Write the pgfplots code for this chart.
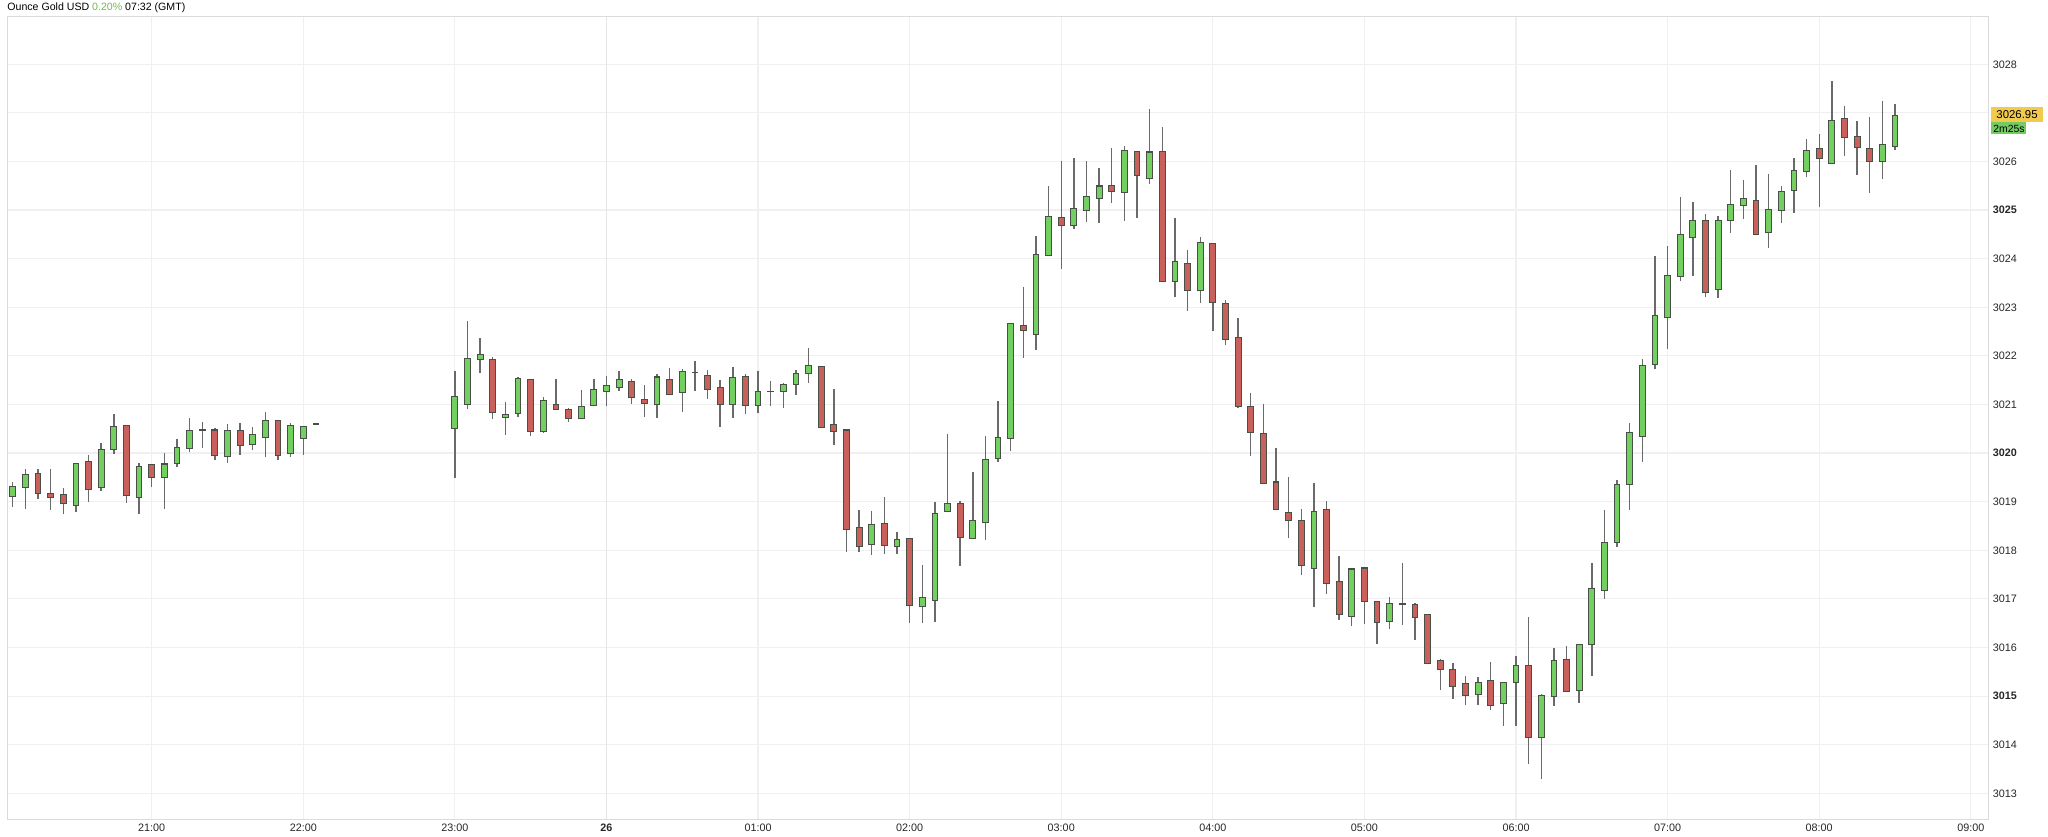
\documentclass[border=0pt]{standalone}
\usepackage{pgfplots}
\usepackage{pgfplotstable}
\usepackage{fontspec}
\setmainfont{Liberation Sans}
\pgfplotsset{compat=1.18}
\definecolor{upfill}{HTML}{72CF60}
\definecolor{downfill}{HTML}{C9605C}
\definecolor{edge}{HTML}{465046}
\definecolor{wick}{HTML}{6A6A6A}
\definecolor{gridc}{HTML}{F0F0F3}
\definecolor{framec}{HTML}{DADCDA}
\definecolor{pctgreen}{HTML}{6DBB4F}
\definecolor{tagy}{HTML}{F2CB4E}
\definecolor{tagg}{HTML}{74CB62}
% i = 5-minute bar number (21:00 = 11, 22:00 = 23, ... 09:00 = 155)
\pgfplotstableread{
i high top bot low
0 3019.41 3019.30 3019.12 3018.90
1 3019.68 3019.55 3019.29 3018.86
5 3019.78 3019.78 3018.92 3018.79
7 3020.21 3020.07 3019.29 3019.21
8 3020.80 3020.55 3020.08 3019.99
10 3019.79 3019.72 3019.10 3018.74
12 3020.01 3019.77 3019.51 3018.84
13 3020.30 3020.11 3019.79 3019.71
14 3020.73 3020.45 3020.11 3020.03
15 3020.64 3020.47 3020.47 3020.11
17 3020.60 3020.45 3019.93 3019.79
19 3020.53 3020.37 3020.18 3020.07
20 3020.84 3020.66 3020.33 3019.92
22 3020.62 3020.56 3019.99 3019.92
23 3020.55 3020.55 3020.31 3019.97
24 3020.60 3020.60 3020.60 3020.60
35 3021.69 3021.16 3020.52 3019.49
36 3022.71 3021.95 3021.01 3020.90
37 3022.37 3022.02 3021.93 3021.65
39 3021.06 3020.79 3020.74 3020.38
40 3021.57 3021.52 3020.82 3020.74
42 3021.15 3021.07 3020.44 3020.42
45 3021.29 3020.96 3020.71 3020.71
46 3021.52 3021.30 3020.98 3020.98
47 3021.58 3021.38 3021.27 3020.97
48 3021.68 3021.50 3021.36 3021.27
51 3021.62 3021.56 3021.00 3020.73
53 3021.74 3021.68 3021.26 3020.84
54 3021.89 3021.66 3021.66 3021.28
57 3021.77 3021.55 3021.01 3020.73
59 3021.69 3021.26 3020.99 3020.82
60 3021.49 3021.27 3021.27 3020.97
61 3021.45 3021.40 3021.28 3020.93
62 3021.71 3021.63 3021.42 3021.20
63 3022.16 3021.80 3021.65 3021.45
68 3018.80 3018.53 3018.13 3017.91
70 3018.38 3018.21 3018.09 3017.93
72 3017.70 3017.02 3016.84 3016.50
73 3019.00 3018.76 3016.98 3016.53
74 3020.39 3018.95 3018.80 3018.80
76 3019.62 3018.60 3018.25 3018.25
77 3020.36 3019.87 3018.58 3018.21
78 3021.08 3020.31 3019.90 3019.82
79 3022.66 3022.66 3020.31 3020.04
81 3024.47 3024.08 3022.45 3022.13
82 3025.49 3024.86 3024.08 3024.06
84 3026.08 3025.02 3024.68 3024.62
85 3026.01 3025.27 3024.99 3024.75
86 3025.87 3025.49 3025.25 3024.74
88 3026.32 3026.23 3025.37 3024.78
90 3027.09 3026.19 3025.65 3025.53
92 3024.84 3023.93 3023.53 3023.22
94 3024.44 3024.32 3023.35 3023.08
103 3019.38 3018.80 3017.64 3016.84
106 3017.62 3017.61 3016.65 3016.44
109 3017.03 3016.90 3016.55 3016.38
110 3017.74 3016.90 3016.90 3016.47
116 3015.40 3015.27 3015.03 3014.81
118 3015.30 3015.27 3014.85 3014.38
119 3015.82 3015.62 3015.29 3014.38
121 3015.04 3015.01 3014.16 3013.30
122 3016.00 3015.72 3014.99 3014.79
124 3016.05 3016.05 3015.13 3014.86
125 3017.73 3017.21 3016.06 3015.41
126 3018.83 3018.16 3017.18 3017.00
127 3019.45 3019.35 3018.17 3018.06
128 3020.61 3020.42 3019.36 3018.83
129 3021.94 3021.79 3020.35 3019.82
130 3024.05 3022.82 3021.82 3021.73
131 3024.26 3023.64 3022.79 3022.14
132 3025.27 3024.49 3023.64 3023.55
133 3025.17 3024.78 3024.45 3023.65
135 3024.88 3024.78 3023.38 3023.19
136 3025.83 3025.10 3024.79 3024.52
137 3025.61 3025.24 3025.11 3024.82
139 3025.75 3025.00 3024.55 3024.21
140 3025.49 3025.38 3024.99 3024.74
141 3026.07 3025.81 3025.41 3024.94
142 3026.47 3026.23 3025.79 3025.68
144 3027.65 3026.84 3025.96 3025.95
148 3027.25 3026.34 3026.01 3025.64
149 3027.19 3026.94 3026.32 3026.24
}\upbars
\pgfplotstableread{
i high top bot low
2 3019.68 3019.58 3019.18 3019.06
3 3019.68 3019.16 3019.10 3018.82
4 3019.29 3019.14 3018.96 3018.74
6 3019.97 3019.82 3019.25 3019.00
9 3020.57 3020.57 3019.14 3018.97
11 3019.75 3019.75 3019.51 3019.30
16 3020.52 3020.47 3019.95 3019.86
18 3020.62 3020.45 3020.17 3019.97
21 3020.67 3020.67 3019.95 3019.86
38 3021.98 3021.93 3020.84 3020.71
41 3021.51 3021.51 3020.44 3020.36
43 3021.53 3020.99 3020.90 3020.89
44 3020.93 3020.89 3020.72 3020.64
49 3021.53 3021.46 3021.14 3021.02
50 3021.40 3021.10 3021.03 3020.75
52 3021.75 3021.51 3021.21 3021.21
55 3021.71 3021.60 3021.32 3021.12
56 3021.51 3021.34 3021.00 3020.54
58 3021.63 3021.58 3020.98 3020.81
64 3021.78 3021.78 3020.54 3020.54
65 3021.32 3020.58 3020.45 3020.16
66 3020.47 3020.47 3018.43 3017.97
67 3018.82 3018.47 3018.09 3017.97
69 3019.10 3018.55 3018.11 3017.93
71 3018.23 3018.23 3016.86 3016.50
75 3019.01 3018.96 3018.27 3017.68
80 3023.42 3022.61 3022.52 3021.96
83 3026.02 3024.84 3024.68 3023.79
87 3026.28 3025.51 3025.39 3025.14
89 3026.21 3026.21 3025.71 3024.84
91 3026.70 3026.21 3023.53 3023.53
93 3024.18 3023.90 3023.36 3022.92
95 3024.31 3024.31 3023.10 3022.51
96 3023.14 3023.08 3022.35 3022.23
97 3022.77 3022.37 3020.96 3020.93
98 3021.24 3020.96 3020.43 3019.94
99 3021.00 3020.40 3019.38 3019.38
100 3020.10 3019.40 3018.85 3018.85
101 3019.50 3018.78 3018.62 3018.25
102 3018.86 3018.60 3017.69 3017.50
104 3019.01 3018.84 3017.33 3017.11
105 3017.88 3017.35 3016.69 3016.56
107 3017.65 3017.63 3016.95 3016.48
108 3016.95 3016.95 3016.53 3016.08
111 3016.92 3016.88 3016.62 3016.16
112 3016.68 3016.68 3015.68 3015.66
113 3015.77 3015.73 3015.56 3015.12
114 3015.68 3015.55 3015.21 3014.95
115 3015.42 3015.25 3015.01 3014.81
117 3015.70 3015.31 3014.81 3014.71
120 3016.62 3015.62 3014.16 3013.61
123 3016.04 3015.75 3015.10 3015.10
134 3024.92 3024.78 3023.31 3023.22
138 3025.93 3025.20 3024.51 3024.48
143 3026.57 3026.27 3026.06 3025.07
145 3027.14 3026.88 3026.50 3026.12
146 3026.84 3026.51 3026.30 3025.73
147 3026.92 3026.27 3026.01 3025.36
}\downbars
\pgfplotsset{
  wickbar/.style={forget plot, draw=none, mark=none,
    error bars/.cd, y dir=both, y explicit, error mark=none,
    error bar style={color=wick, line width=0.7pt}},
  edgebar/.style={forget plot, draw=none, mark=none,
    error bars/.cd, y dir=both, y explicit, error mark=none,
    error bar style={color=edge, line width=3.4pt}},
  fillbar/.style={forget plot, draw=none, mark=none,
    error bars/.cd, y dir=both, y explicit, error mark=none,
    error bar style={color=#1, line width=2.4pt}},
}
\newcommand{\candles}[2]{%
  \addplot[wickbar] table[x=i, y=bot,
    y error plus expr={\thisrow{high}-\thisrow{bot}},
    y error minus expr={\thisrow{bot}-\thisrow{low}}] {#1};
  \addplot[edgebar] table[x=i, y expr={\thisrow{bot}-0.016},
    y error plus expr={\thisrow{top}-\thisrow{bot}+0.032},
    y error minus expr={0}] {#1};
  \addplot[fillbar=#2] table[x=i, y expr={\thisrow{bot}+0.005},
    y error plus expr={max(\thisrow{top}-\thisrow{bot}-0.01,0)},
    y error minus expr={0}] {#1};
}
\newcommand{\tickfont}{\fontsize{5.4pt}{6pt}\selectfont}
\begin{document}
\begin{tikzpicture}
\path[use as bounding box] (0,0) rectangle (1024pt,418pt);
\begin{axis}[
  at={(3.75pt,8.35pt)}, anchor=south west,
  scale only axis, width=990.6pt, height=401.15pt,
  xmin=-0.415, xmax=156.42, ymin=3012.465, ymax=3028.973,
  axis line style={color=framec, line width=0.5pt},
  tick style={draw=none},
  major tick length=0pt,
  grid=major,
  major grid style={color=gridc, line width=0.6pt},
  xtick={11,23,35,47,59,71,83,95,107,119,131,143,155},
  xticklabels={21:00,22:00,23:00,\textbf{26},01:00,02:00,03:00,04:00,05:00,06:00,07:00,08:00,09:00},
  extra x ticks={47},
  extra x tick labels={},
  extra x tick style={grid=major, major grid style={color=black!10, line width=0.6pt}},
  ytick={3013,3014,3015,3016,3017,3018,3019,3020,3021,3022,3023,3024,3025,3026,3027,3028},
  yticklabels={3013,3014,\textbf{3015},3016,3017,3018,3019,\textbf{3020},3021,3022,3023,3024,\textbf{3025},3026,,3028},
  yticklabel pos=right,
  yticklabel style={anchor=west, xshift=-1.5pt, font=\tickfont, text=black!85},
  xticklabel style={anchor=base, yshift=-6.1pt, font=\tickfont, text=black!85},
]
\candles{\upbars}{upfill}
\candles{\downbars}{downfill}
\end{axis}
\begin{scope}[yshift=418pt, x=0.5pt, y=-0.5pt]
\node[anchor=west, inner sep=0pt, font=\fontsize{5.3pt}{6pt}\selectfont] at (7,7.5)
  {Ounce Gold USD \textcolor{pctgreen}{0.20\%} 07:32 (GMT)};
\fill[tagy] (1991,106.7) rectangle (2043,121.7);
\fill[tagg] (1991,121.7) rectangle (2026,134);
\node[anchor=east, inner sep=0pt, font=\fontsize{5.7pt}{6pt}\selectfont] at (2038,114.5) {3026.95};
\node[anchor=west, inner sep=0pt, font=\fontsize{5.2pt}{6pt}\selectfont] at (1993,128.5) {2m25s};
\end{scope}
\end{tikzpicture}
\end{document}
